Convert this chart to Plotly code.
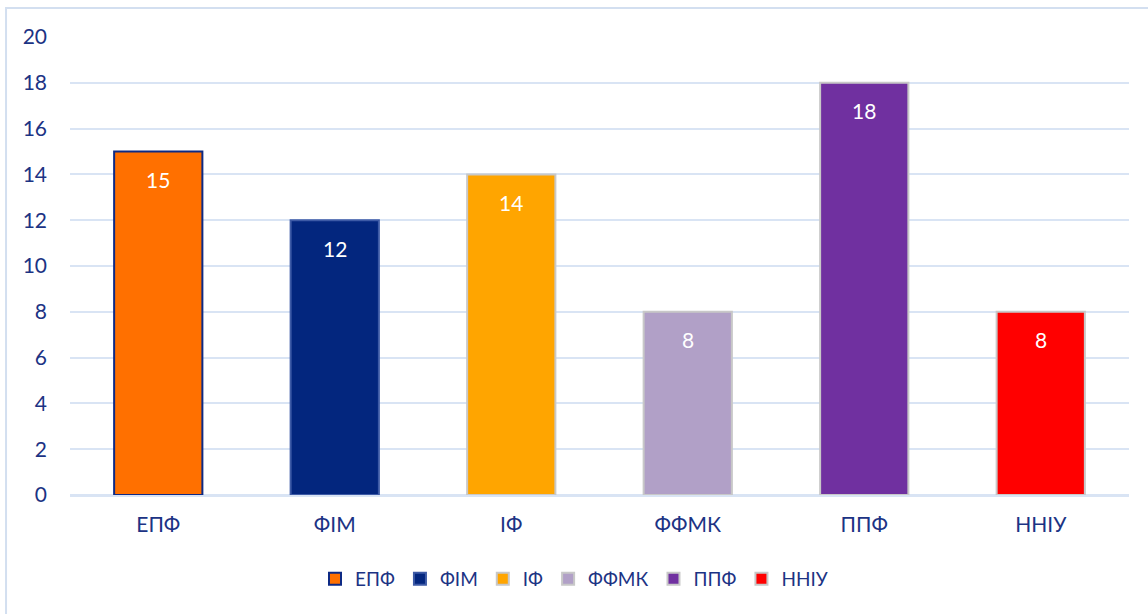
import plotly.graph_objects as go

# Faculties and counts
faculties = ["ЕПФ", "ФІМ", "ІФ", "ФФМК", "ППФ", "ННІУ"]
counts = [15, 12, 14, 8, 18, 8]
bar_colors = ["#FF7000", "#03267E", "#FFA500", "#B1A0C7", "#7030A0", "#FF0000"]
edge_colors = ["#0E2A84", "#3D5AA6", "#C8C8C8", "#C8C8C8", "#C8C8C8", "#C8C8C8"]
y_ticks = [0, 2, 4, 6, 8, 10, 12, 14, 16, 18, 20]

TEXT = "#1C3384"
GRID = "#D9E4F4"
FONT = "Lato"
FSIZE = 21

fig = go.Figure()

for name, val, col, edge in zip(faculties, counts, bar_colors, edge_colors):
    fig.add_trace(go.Bar(
        x=[name], y=[val], name=name,
        marker=dict(color=col, line=dict(color=edge, width=2)),
        width=0.5,
        hoverinfo="x+y",
    ))
    # value label, a bit below the top of the bar
    fig.add_annotation(
        x=name, y=val, yshift=-28, text=str(val), showarrow=False,
        font=dict(family=FONT, size=FSIZE, color="white"),
    )

# outer chart border
fig.add_shape(
    type="rect", xref="paper", yref="paper",
    x0=-0.0604, x1=1.03, y0=-0.3, y1=1.0633,
    line=dict(color="#D3DFF0", width=2), fillcolor="rgba(0,0,0,0)",
)

fig.update_layout(
    width=1148, height=614,
    margin=dict(l=70, r=19, t=37, b=119),
    paper_bgcolor="white", plot_bgcolor="white",
    font=dict(family=FONT, size=FSIZE, color=TEXT),
    barmode="overlay",
    showlegend=True,
    legend=dict(
        orientation="h", xref="container", x=0.5, xanchor="center",
        yref="container", y=0.057, yanchor="middle",
        font=dict(family=FONT, size=19, color=TEXT),
        itemclick=False,
    ),
    xaxis=dict(
        categoryorder="array", categoryarray=faculties,
        showgrid=False, showline=True, linecolor=GRID, linewidth=2,
        ticks="", ticklabelstandoff=10,
        tickfont=dict(family=FONT, size=FSIZE, color=TEXT),
    ),
    yaxis=dict(
        range=[0, 20], tickvals=y_ticks,
        showgrid=True, gridcolor=GRID, gridwidth=2,
        zeroline=True, zerolinecolor=GRID, zerolinewidth=2,
        ticks="", ticklabelstandoff=22,
        tickfont=dict(family=FONT, size=FSIZE, color=TEXT),
    ),
)

fig.write_html("out.html", config={"displayModeBar": False},
               post_script="document.body.style.margin='0';")
